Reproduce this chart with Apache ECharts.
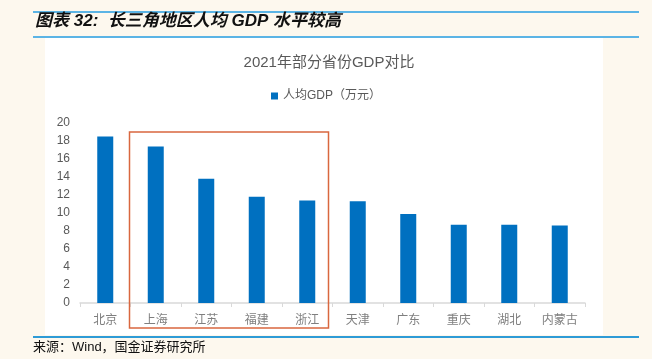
<!DOCTYPE html>
<html><head><meta charset="utf-8">
<script src="https://cdn.jsdelivr.net/npm/echarts@6/dist/echarts.min.js"></script>
<style>html,body{margin:0;padding:0;background:#FDF8EE;}#c{width:652px;height:359px;}</style>
</head><body><div id="c"></div>
<script>
const categories = ['北京','上海','江苏','福建','浙江','天津','广东','重庆','湖北','内蒙古'];
const gdpPerCapita = [18.5, 17.4, 13.8, 11.8, 11.4, 11.3, 9.9, 8.7, 8.7, 8.6];
const yTicks = [0, 20, 2];
const highlight = ['上海','浙江'];

const font = '"Liberation Sans", "Noto Sans CJK SC", sans-serif';
const chart = echarts.init(document.getElementById('c'), null, {renderer:'canvas'});
const baseGraphic = [
  {type:'rect', shape:{x:45,y:38,width:558,height:297}, style:{fill:'#ffffff'}, z:-10, silent:true},
  {type:'rect', shape:{x:33,y:11,width:606,height:2}, style:{fill:'#5BB4E5'}, silent:true},
  {type:'rect', shape:{x:33,y:36,width:606,height:2}, style:{fill:'#5BB4E5'}, silent:true},
  {type:'rect', shape:{x:33,y:336,width:606,height:2}, style:{fill:'#2E9BD6'}, silent:true},
  {type:'text', left:35, top:13, style:{text:'图表 32:  长三角地区人均 GDP 水平较高', font:'italic bold 17px "Liberation Sans","Noto Sans CJK SC",sans-serif', fill:'#111'}, silent:true},
  {type:'text', left:33, top:341, style:{text:'来源：Wind，国金证券研究所', font:'13px "Liberation Sans","Noto Sans CJK SC",sans-serif', fill:'#111'}, silent:true}
];
chart.setOption({
  animation:false,
  backgroundColor:'#FDF8EE',
  title:{text:'2021年部分省份GDP对比', left:324, textAlign:'center', top:50, textStyle:{fontSize:15, fontWeight:'normal', color:'#595959', fontFamily:font}},
  legend:{top:85, left:'center', itemWidth:7, itemHeight:7, icon:'rect', itemGap:5, textStyle:{fontSize:12, color:'#595959', fontFamily:font}, data:['人均GDP（万元）']},
  grid:{left:80, right:67, top:123, bottom:56},
  xAxis:{type:'category', data:categories, boundaryGap:true,
    axisLine:{lineStyle:{color:'#D9D9D9', width:1.5}},
    axisTick:{show:true, length:4, lineStyle:{color:'#D9D9D9'}},
    axisLabel:{color:'#7F7F7F', fontSize:12, margin:12, fontFamily:font}},
  yAxis:{type:'value', min:yTicks[0], max:yTicks[1], interval:yTicks[2],
    axisLine:{show:false}, axisTick:{show:false}, splitLine:{show:false},
    axisLabel:{color:'#595959', fontSize:12, margin:10, fontFamily:font}},
  series:[{name:'人均GDP（万元）', type:'bar', data:gdpPerCapita, barWidth:16, itemStyle:{color:'#0070C0'}}],
  graphic:baseGraphic
});
const i0 = categories.indexOf(highlight[0]);
const i1 = categories.indexOf(highlight[1]);
const c0 = chart.convertToPixel({xAxisIndex:0}, categories[i0]);
const c1 = chart.convertToPixel({xAxisIndex:0}, categories[i1]);
const band = chart.convertToPixel({xAxisIndex:0}, categories[1]) - chart.convertToPixel({xAxisIndex:0}, categories[0]);
const yTop = chart.convertToPixel({yAxisIndex:0}, 19);
const y0 = chart.convertToPixel({yAxisIndex:0}, 0);
const x0 = c0 - band/2 - 1, x1 = c1 + band/2 - 4;
chart.setOption({graphic: baseGraphic.concat([
  {type:'rect', shape:{x:x0, y:yTop, width:x1-x0, height:(y0+25)-yTop}, style:{fill:'none', stroke:'#D9673F', lineWidth:1.5}, z:100, silent:true}
])});
</script></body></html>
